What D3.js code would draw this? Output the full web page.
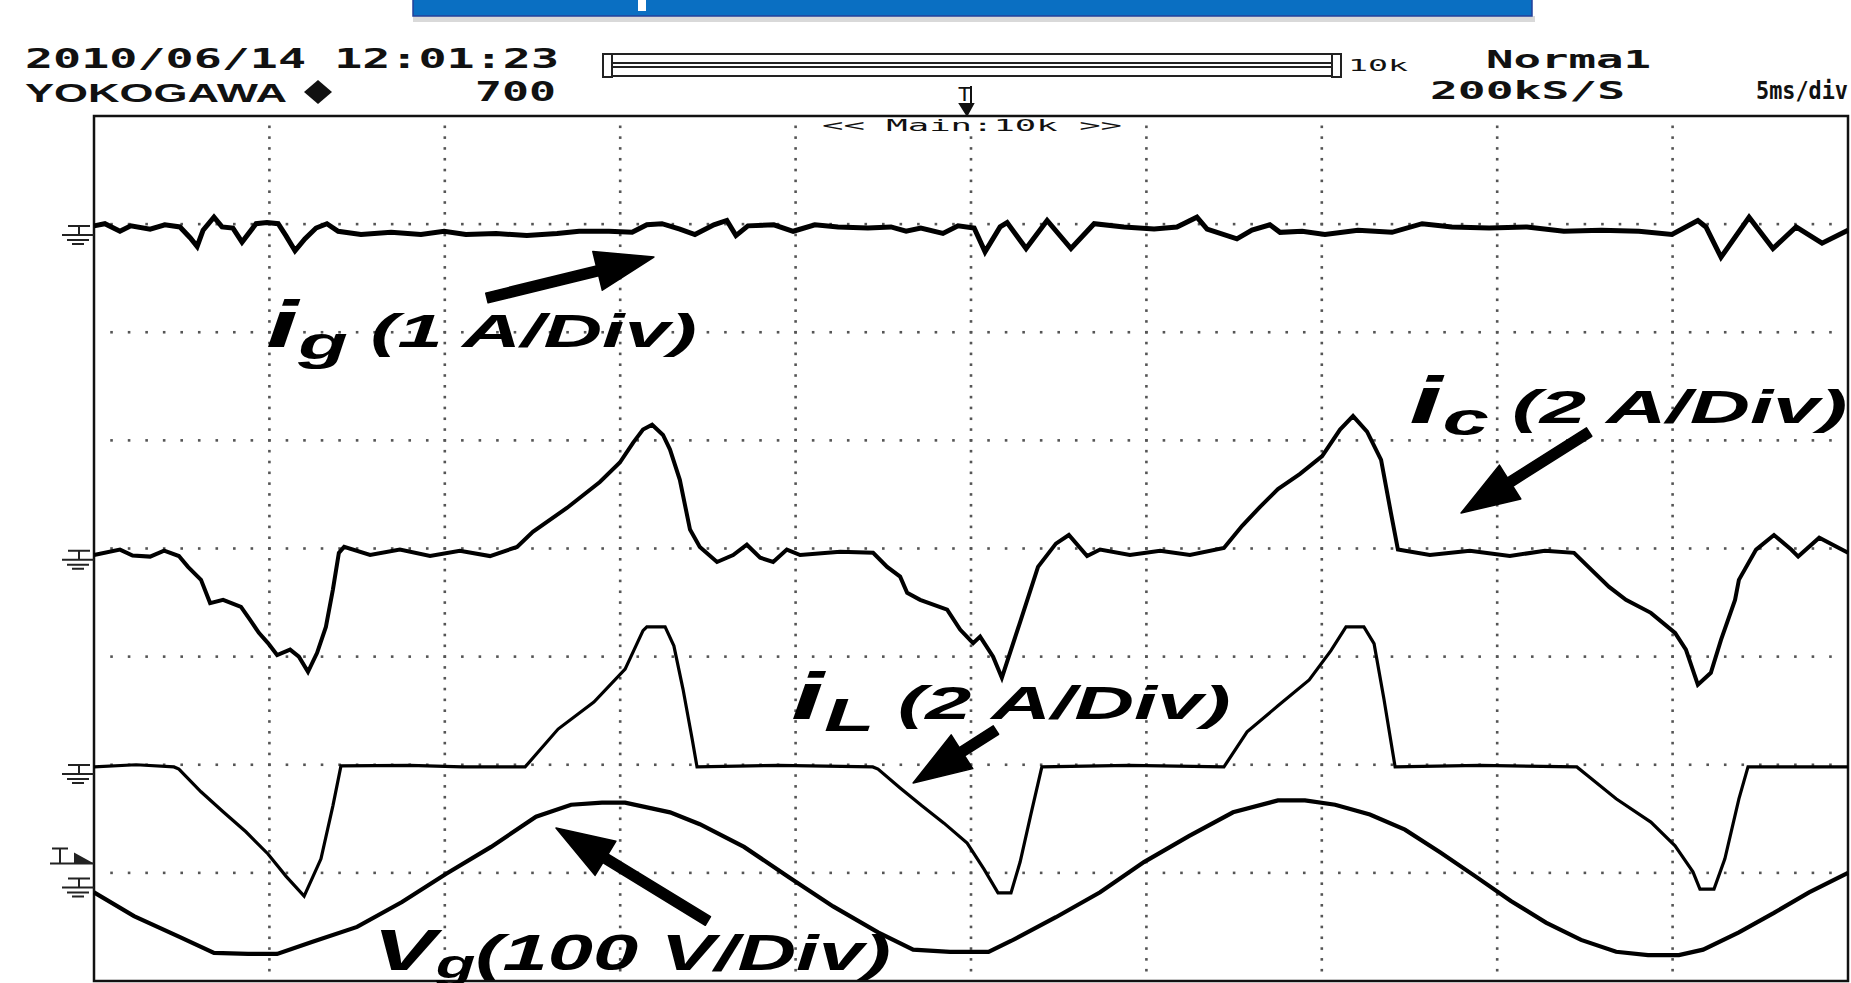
<!DOCTYPE html>
<html>
<head>
<meta charset="utf-8">
<script src="https://cdn.jsdelivr.net/npm/d3@7"></script>
<style>
  html, body { margin: 0; padding: 0; background: #fff; overflow: hidden; }
  svg { display: block; }
</style>
</head>
<body>
<svg id="scope" width="1851" height="983"></svg>
<script>
// traces: [time in ms, value in A or V]
const igPoints = [
  [0,0.02],[0.31,0.04],[0.74,-0.03],[1.05,0.02],[1.6,-0.01],[2.02,0.03],[2.45,0.01],[2.74,-0.09],[2.94,-0.17],[3.11,-0.02],
  [3.42,0.10],[3.65,0.01],[3.96,0],[4.22,-0.13],[4.62,0.04],[4.93,0.05],[5.25,0.04],[5.47,-0.07],[5.73,-0.21],[6.01,-0.1],
  [6.33,0],[6.64,0.04],[6.96,-0.03],[7.61,-0.06],[8.47,-0.04],[9.32,-0.06],[9.98,-0.03],[10.6,-0.06],[11.46,-0.05],[12.34,-0.07],
  [13.2,-0.05],[13.83,-0.03],[14.68,-0.03],[15.34,-0.04],[15.76,0.03],[16.19,0.04],[16.7,-0.01],[17.13,-0.06],[17.67,0.03],[18.04,0.07],
  [18.3,-0.07],[18.64,0.02],[19.38,0.03],[19.93,-0.03],[20.55,0.03],[21.21,0.01],[22.06,0],[22.72,0.01],[23.15,-0.03],[23.57,0],
  [24.2,-0.05],[24.63,0.02],[25.09,0],[25.4,-0.22],[25.83,0.01],[26.03,0.05],[26.57,-0.19],[27.17,0.07],[27.85,-0.19],[28.51,0.04],
  [29.36,0.01],[30.22,-0.01],[30.87,0.01],[31.44,0.1],[31.73,-0.01],[32.58,-0.1],[33.01,-0.02],[33.52,0.03],[33.81,-0.04],[34.44,-0.03],
  [35.09,-0.06],[36.03,-0.02],[37.0,-0.04],[37.86,0.04],[38.71,0.01],[39.77,0],[40.85,0.01],[41.9,-0.03],[42.96,-0.02],[44.04,-0.03],
  [44.98,-0.06],[45.72,0.07],[45.95,0.01],[46.38,-0.27],[47.18,0.10],[47.86,-0.19],[48.52,0.01],[49.26,-0.14],[50,-0.02]
];
const icPoints = [
  [0,-0.04],[0.74,0.06],[1.1,-0.05],[1.6,-0.07],[2.0,0.04],[2.42,-0.06],[2.68,-0.26],[3.05,-0.5],[3.31,-0.93],[3.68,-0.87],
  [4.19,-1.0],[4.45,-1.24],[4.7,-1.48],[4.96,-1.67],[5.22,-1.89],[5.59,-1.79],[5.84,-1.92],[6.1,-2.2],[6.36,-1.85],[6.61,-1.37],
  [6.81,-0.68],[6.98,0],[7.13,0.11],[7.87,-0.04],[8.72,0.06],[9.58,-0.06],[10.43,0.04],[11.29,-0.06],[12.06,0.11],[12.51,0.39],
  [13.48,0.83],[14.42,1.31],[14.99,1.67],[15.37,2.04],[15.65,2.28],[15.91,2.37],[16.22,2.18],[16.42,1.91],[16.7,1.35],[16.99,0.43],
  [17.27,0.11],[17.76,-0.17],[18.22,-0.04],[18.61,0.15],[18.99,-0.09],[19.36,-0.17],[19.75,0.06],[20.13,-0.04],[21.27,0.02],[22.21,0],
  [22.61,-0.26],[22.98,-0.44],[23.18,-0.74],[23.55,-0.87],[24.32,-1.05],[24.69,-1.42],[25.06,-1.67],[25.26,-1.55],[25.63,-1.92],[25.88,-2.31],
  [26.4,-1.28],[26.91,-0.26],[27.42,0.17],[27.79,0.33],[28.31,-0.06],[28.68,0.06],[29.53,-0.04],[30.39,0.04],[31.24,-0.04],[32.21,0.09],
  [32.73,0.5],[33.24,0.85],[33.75,1.18],[34.38,1.46],[35.01,1.79],[35.52,2.28],[35.89,2.53],[36.29,2.24],[36.69,1.72],[36.97,0.74],
  [37.17,0.06],[38.08,-0.04],[39.22,0.04],[40.36,-0.06],[41.36,0.04],[42.19,0],[42.68,-0.31],[43.19,-0.63],[43.67,-0.87],[44.38,-1.11],
  [45.07,-1.48],[45.38,-1.79],[45.72,-2.44],[46.09,-2.22],[46.38,-1.61],[46.78,-0.87],[46.89,-0.5],[47.38,0.06],[47.89,0.33],[48.38,0.06],
  [48.58,-0.07],[49.18,0.28],[50,0]
];
const iLPoints = [
  [0,0],[1.2,0.04],[2.28,0],[2.42,-0.04],[3.05,-0.46],[3.68,-0.83],[4.33,-1.2],[4.96,-1.61],[5.47,-2.02],[5.99,-2.39],
  [6.47,-1.7],[6.81,-0.72],[7.04,0.02],[9.0,0.03],[10.5,0],[12.29,0],[13.23,0.7],[14.25,1.2],[15.14,1.81],[15.65,2.52],
  [15.76,2.59],[16.28,2.59],[16.53,2.24],[16.79,1.44],[17.05,0.52],[17.19,0],[19.5,0.03],[22.2,0],[22.35,-0.04],[22.98,-0.39],
  [23.6,-0.72],[24.23,-1.04],[24.89,-1.41],[25.37,-1.89],[25.77,-2.33],[26.14,-2.33],[26.4,-1.76],[26.71,-0.87],[27.02,0],[29.5,0.03],
  [32.21,0],[32.87,0.65],[33.75,1.13],[34.64,1.61],[35.26,2.15],[35.69,2.59],[36.2,2.59],[36.49,2.28],[36.77,1.26],[37.09,0],
  [39.5,0.03],[42.27,0],[42.59,-0.17],[43.39,-0.59],[44.38,-1.02],[45.07,-1.46],[45.58,-1.94],[45.78,-2.26],[46.18,-2.26],[46.49,-1.7],
  [46.89,-0.59],[47.15,0],[50,0]
];
const vgPoints = [
  [0,-11],[1.14,-33],[2.42,-52],[3.42,-67],[4.39,-68],[5.22,-68],[6.21,-57],[7.5,-43],[8.78,-20],[10.03,6],
  [11.32,31],[12.6,59],[13.6,70],[14.48,72],[15.14,72],[16.42,63],[17.27,52],[18.53,31],[19.81,3],[21.07,-24],
  [22.35,-48],[23.35,-64],[24.4,-66],[25.5,-66],[26.14,-56],[27.42,-34],[28.68,-11],[29.93,17],[31.21,41],[32.47,63],
  [33.75,74],[34.52,74],[35.38,70],[36.37,61],[37.37,47],[38.37,26],[39.37,4],[40.39,-19],[41.39,-39],[42.39,-55],
  [43.39,-66],[44.3,-69],[45.18,-69],[45.87,-64],[46.89,-48],[47.89,-30],[48.89,-11],[50,7]
];

// channel settings
const channelNames = ['ig', 'ic', 'iL', 'vg'];
const unitsPerDiv = [1, 2, 2, 100];
const labelMain = ['i', 'i', 'i', 'V'];
const labelSub = ['g', 'c', 'L', 'g'];
const labelRest = [' (1 A/Div)', ' (2 A/Div)', ' (2 A/Div)', '(100 V/Div)'];

// header strings
const headerDate = '2010/06/14 12:01:23';
const headerMaker = 'YOKOGAWA';
const headerRecord = '700';
const headerMode = 'Norma1';
const headerRate = '200kS/S';
const headerTime = '5ms/div';
const headerMemory = '10k';
const headerMain = '<< Main:10k >>';

// ---- layout (screen geometry, not data) ----
const frame = { left: 94, right: 1848, top: 116, bottom: 981 };
const groundDiv = [2.964, -0.04, -2.02, -3.07];
const traceWidth = [5, 4, 3.2, 4.2];
// label anchor [ms, div], width in ms
const labelPos = [[4.9, 1.864, 12.29], [37.49, 1.161, 12.49], [19.87, -1.577, 12.49], [7.95, -3.9, 14.77]];
// arrows [tail ms, tail div, tip ms, tip div]
const arrowPos = [[11.2, 2.317, 15.96, 2.696], [42.62, 1.077, 38.97, 0.328], [25.71, -1.679, 23.35, -2.169], [17.5, -3.445, 13.17, -2.585]];

const svg = d3.select('#scope');
const x = d3.scaleLinear().domain([0, 50]).range([frame.left, frame.right]);
const y = d3.scaleLinear().domain([4, -4]).range([frame.top, frame.bottom]);

// top blue banner
svg.append('rect').attr('x', 413).attr('y', 16).attr('width', 1122).attr('height', 6)
  .attr('fill', '#c9c9c9').attr('opacity', 0.7);
svg.append('rect').attr('x', 413).attr('y', -4).attr('width', 1119).attr('height', 20)
  .attr('fill', '#0a6fc2').attr('stroke', '#23409a').attr('stroke-width', 1.5);
svg.append('rect').attr('x', 638).attr('y', 0).attr('width', 8).attr('height', 11).attr('fill', '#fff');

// header texts
const mono = '"DejaVu Sans Mono", "Liberation Mono", monospace';
function headText(str, px, py, size, len, weight, family) {
  svg.append('text').attr('x', px).attr('y', py)
    .attr('font-family', family || mono).attr('font-weight', weight || 'bold')
    .attr('font-size', size).attr('textLength', len).attr('lengthAdjust', 'spacingAndGlyphs')
    .attr('fill', '#111').text(str);
}
headText(headerDate, 25, 68, 27, 534);
headText(headerMaker, 25, 102, 25, 262, 'bold', '"Liberation Sans", Arial, sans-serif');
svg.append('path').attr('d', 'M318,80 L332,92 L318,104 L304,92 Z').attr('fill', '#111');
headText(headerRecord, 475, 101, 27, 81);
headText(headerMode, 1486, 68, 25, 165);
headText(headerRate, 1430, 99, 25, 195);
headText(headerTime, 1756, 99, 25, 92);
headText(headerMemory, 1348, 71, 16, 60, 'normal');

// memory bar
const bar = svg.append('g').attr('fill', 'none').attr('stroke', '#222').attr('stroke-width', 2);
bar.append('rect').attr('x', 603).attr('y', 54).attr('width', 9).attr('height', 23);
bar.append('rect').attr('x', 612).attr('y', 54).attr('width', 720).attr('height', 9);
bar.append('rect').attr('x', 612).attr('y', 67).attr('width', 720).attr('height', 9);
bar.append('rect').attr('x', 1332).attr('y', 54).attr('width', 9).attr('height', 23);

// trigger position mark above the frame
svg.append('text').attr('x', 958).attr('y', 101).attr('font-family', mono).attr('font-size', 19)
  .attr('textLength', 13).attr('lengthAdjust', 'spacingAndGlyphs').attr('fill', '#111').text('T');
svg.append('path').attr('d', 'M971,86 L971,104 M960,104 L973,104 L967,115 Z')
  .attr('stroke', '#111').attr('stroke-width', 2).attr('fill', '#111');

// grid dots
const grid = svg.append('g').attr('fill', '#555');
d3.range(3, -4, -1).forEach(d => {
  grid.selectAll(null).data(d3.range(0.5, 50, 0.5)).enter().append('rect')
    .attr('x', t => x(t) - 1.3).attr('y', y(d) - 1.3).attr('width', 2.6).attr('height', 2.6);
});
d3.range(5, 50, 5).forEach(t => {
  grid.selectAll(null).data(d3.range(-39, 40).map(k => k / 10)).enter().append('rect')
    .attr('x', x(t) - 1.3).attr('y', d => y(d) - 1.3).attr('width', 2.6).attr('height', 2.6);
});

// frame
svg.append('rect').attr('x', frame.left).attr('y', frame.top)
  .attr('width', frame.right - frame.left).attr('height', frame.bottom - frame.top)
  .attr('fill', 'none').attr('stroke', '#111').attr('stroke-width', 2.5);

svg.append('rect').attr('x', 820).attr('y', 118).attr('width', 305).attr('height', 16).attr('fill', '#fff');
headText(headerMain, 822, 131, 15, 300, 'normal');

// ground markers and traces
const line = d3.line().x(d => x(d[0]));
const allPoints = [igPoints, icPoints, iLPoints, vgPoints];
channelNames.forEach((name, i) => {
  const g0 = y(groundDiv[i]);
  svg.append('path')
    .attr('d', `M68,${g0 - 2} L90,${g0 - 2} M79,${g0 - 2} L79,${g0 + 7} M62,${g0 + 7} L94,${g0 + 7} M67,${g0 + 12} L89,${g0 + 12} M72,${g0 + 16} L84,${g0 + 16}`)
    .attr('stroke', '#222').attr('stroke-width', 2).attr('fill', 'none');
  line.y(d => y(groundDiv[i] + d[1] / unitsPerDiv[i]));
  svg.append('path').datum(allPoints[i])
    .attr('class', 'trace-' + name)
    .attr('d', line)
    .attr('fill', 'none').attr('stroke', '#000')
    .attr('stroke-width', traceWidth[i]).attr('stroke-linejoin', 'miter');
});

// trigger level marker on vg
const tl = y(groundDiv[3]) - 19;
svg.append('path').attr('d', `M52,${tl - 13} L68,${tl - 13} M60,${tl - 13} L60,${tl + 2} M50,${tl + 2} L94,${tl + 2}`)
  .attr('stroke', '#222').attr('stroke-width', 2).attr('fill', 'none');
svg.append('path').attr('d', `M74,${tl - 9} L94,${tl + 2} L74,${tl + 2} Z`).attr('fill', '#222');

// annotation arrows
function arrowPath(x1, y1, x2, y2) {
  const dx = x2 - x1, dy = y2 - y1, L = Math.hypot(dx, dy);
  const ux = dx / L, uy = dy / L, nx = -uy, ny = ux;
  const hl = 58, hw = 20, sw = 5;
  const bx = x2 - ux * hl, by = y2 - uy * hl;
  const p = [
    [x1 + nx * sw, y1 + ny * sw], [bx + nx * sw, by + ny * sw], [bx + nx * hw, by + ny * hw],
    [x2, y2], [bx - nx * hw, by - ny * hw], [bx - nx * sw, by - ny * sw], [x1 - nx * sw, y1 - ny * sw]
  ];
  return 'M' + p.map(q => q.join(',')).join('L') + 'Z';
}
arrowPos.forEach(a => {
  svg.append('path').attr('d', arrowPath(x(a[0]), y(a[1]), x(a[2]), y(a[3])))
    .attr('fill', '#000').attr('stroke', '#000').attr('stroke-width', 1.5).attr('stroke-linejoin', 'round');
});

// annotation labels
const labelFont = '"Liberation Sans", Arial, sans-serif';
channelNames.forEach((name, i) => {
  const p = labelPos[i];
  const g = svg.append('g');
  const t = g.append('text').attr('font-family', labelFont).attr('font-weight', 'bold')
    .attr('font-style', 'italic').attr('fill', '#000');
  t.append('tspan').attr('font-size', i === 3 ? 58 : 66).text(labelMain[i]);
  t.append('tspan').attr('font-size', i === 3 ? 40 : 46).attr('dy', i === 3 ? 8 : 12).text(labelSub[i]);
  t.append('tspan').attr('font-size', i === 3 ? 50 : 46).attr('dy', i === 3 ? -8 : -12).text(labelRest[i]);
  const w = t.node().getBBox().width;
  const target = x(p[0] + p[2]) - x(p[0]);
  g.attr('transform', `translate(${x(p[0])},${y(p[1])}) scale(${target / w},1)`);
});
</script>
</body>
</html>
